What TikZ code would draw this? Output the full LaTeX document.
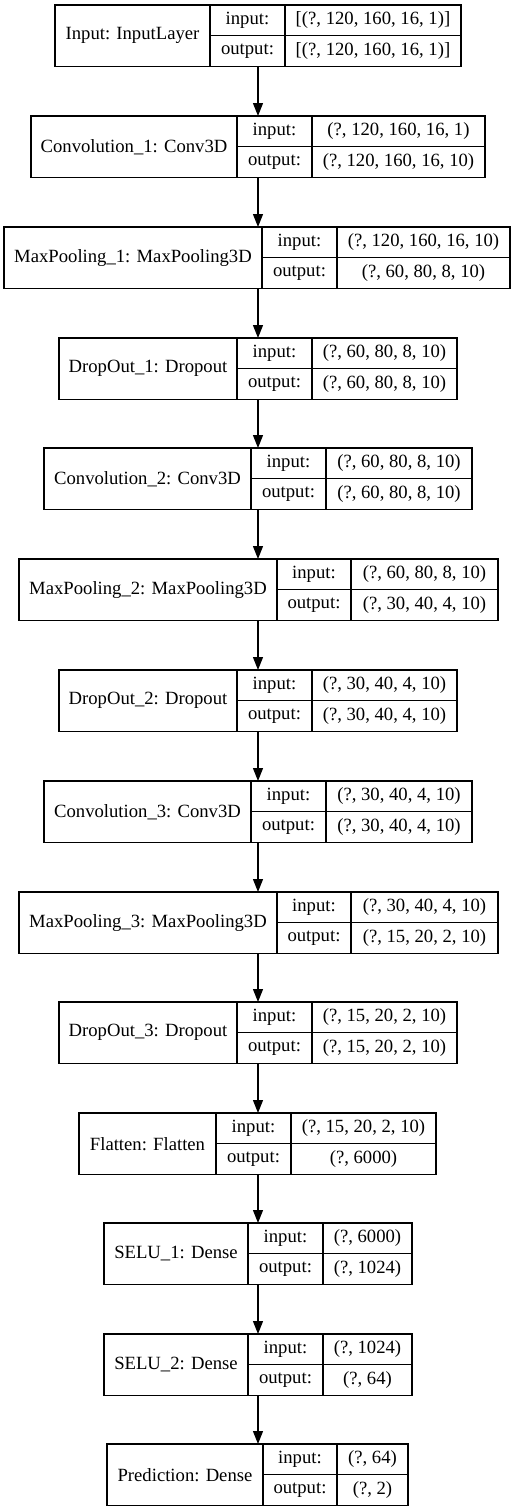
\documentclass[tikz,border=0pt]{standalone}
\usepackage{fontspec}
\setmainfont{Liberation Serif}
\usetikzlibrary{arrows.meta}
\tikzset{
  cell/.style={draw=black, line width=1.3pt, inner sep=0pt, outer sep=0pt,
    font=\fontsize{18.67}{22}\selectfont, anchor=center},
  whole/.style={inner sep=0pt, outer sep=0pt, draw=none},
  arr/.style={draw=black, line width=1.3pt, -{Triangle[length=13pt,width=10pt]}}
}
% #1 name, #2 top, #3 x0, #4 x1, #5 x2, #6 x3, #7 title, #8 input, #9 output
\newcommand\kerlayer[9]{%
  \node[whole, minimum width=#6-#3, minimum height=61.5] (#1) at ({(#3+#6)/2},{#2+30.75}) {};
  \node[cell, minimum width=#4-#3, minimum height=61.5] (#1t) at ({(#3+#4)/2},{#2+30.75}) {#7};
  \node[cell, minimum width=#5-#4, minimum height=30.75] (#1li) at ({(#4+#5)/2},{#2+15.375}) {input:};
  \node[cell, minimum width=#5-#4, minimum height=30.75] (#1lo) at ({(#4+#5)/2},{#2+46.125}) {output:};
  \node[cell, minimum width=#6-#5, minimum height=30.75] (#1vi) at ({(#5+#6)/2},{#2+15.375}) {#8};
  \node[cell, minimum width=#6-#5, minimum height=30.75] (#1vo) at ({(#5+#6)/2},{#2+46.125}) {#9};
}
\begin{document}
\begin{tikzpicture}[x=1pt,y=-1pt]
\useasboundingbox (0,0) rectangle (516,1512);
\coordinate (axis) at (258,0);
\kerlayer{n1}{5}{55}{210}{285}{461}{Input: InputLayer}{[(?, 120, 160, 16, 1)]}{[(?, 120, 160, 16, 1)]}
\kerlayer{n2}{116}{31}{237}{312}{485}{Convolution\_1: Conv3D}{(?, 120, 160, 16, 1)}{(?, 120, 160, 16, 10)}
\kerlayer{n3}{227}{4}{262}{337}{510}{MaxPooling\_1: MaxPooling3D}{(?, 120, 160, 16, 10)}{(?, 60, 80, 8, 10)}
\kerlayer{n4}{338}{59}{237}{312}{457}{DropOut\_1: Dropout}{(?, 60, 80, 8, 10)}{(?, 60, 80, 8, 10)}
\kerlayer{n5}{448}{44}{251}{326}{472}{Convolution\_2: Conv3D}{(?, 60, 80, 8, 10)}{(?, 60, 80, 8, 10)}
\kerlayer{n6}{559}{19}{277}{351}{498}{MaxPooling\_2: MaxPooling3D}{(?, 60, 80, 8, 10)}{(?, 30, 40, 4, 10)}
\kerlayer{n7}{670}{59}{237}{312}{457}{DropOut\_2: Dropout}{(?, 30, 40, 4, 10)}{(?, 30, 40, 4, 10)}
\kerlayer{n8}{781}{44}{251}{326}{472}{Convolution\_3: Conv3D}{(?, 30, 40, 4, 10)}{(?, 30, 40, 4, 10)}
\kerlayer{n9}{892}{19}{277}{351}{498}{MaxPooling\_3: MaxPooling3D}{(?, 30, 40, 4, 10)}{(?, 15, 20, 2, 10)}
\kerlayer{n10}{1002}{59}{237}{312}{457}{DropOut\_3: Dropout}{(?, 15, 20, 2, 10)}{(?, 15, 20, 2, 10)}
\kerlayer{n11}{1113}{79}{216}{291}{436}{Flatten: Flatten}{(?, 15, 20, 2, 10)}{(?, 6000)}
\kerlayer{n12}{1223}{104}{248}{323}{412}{SELU\_1: Dense}{(?, 6000)}{(?, 1024)}
\kerlayer{n13}{1334}{104}{248}{323}{412}{SELU\_2: Dense}{(?, 1024)}{(?, 64)}
\kerlayer{n14}{1444}{107}{263}{337}{408}{Prediction: Dense}{(?, 64)}{(?, 2)}
\foreach \a/\b in {n1/n2,n2/n3,n3/n4,n4/n5,n5/n6,n6/n7,n7/n8,n8/n9,n9/n10,n10/n11,n11/n12,n12/n13,n13/n14}
  \draw[arr] (\a.south -| axis) -- (\b.north -| axis);
\end{tikzpicture}
\end{document}
